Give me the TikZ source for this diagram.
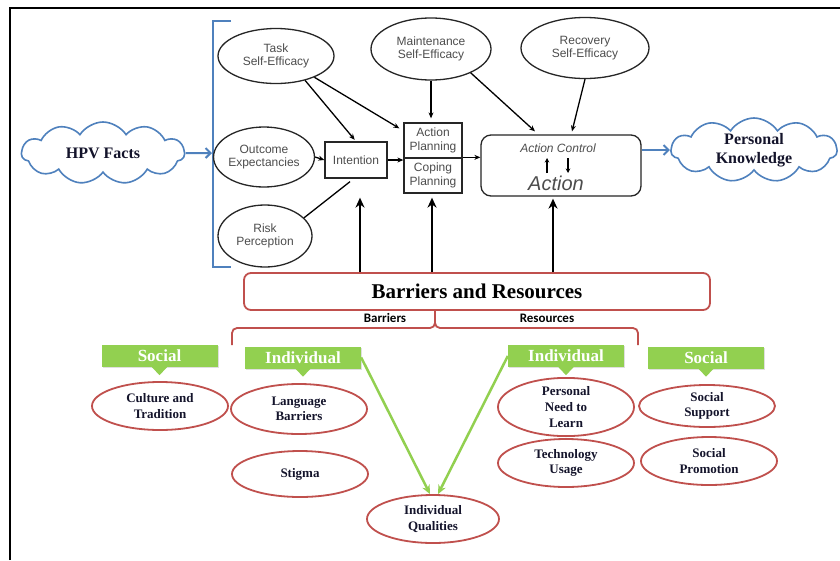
\documentclass[tikz,border=0pt]{standalone}
\usepackage{fontspec}
\setmainfont{Liberation Serif}
\newfontfamily\arialf{Liberation Sans}
\newfontfamily\calibf{Carlito}
\usetikzlibrary{shapes.geometric,shapes.symbols,arrows.meta,calc,shadows}
\definecolor{hapablue}{HTML}{4F81BD}
\definecolor{brred}{HTML}{C0504D}
\definecolor{labgreen}{HTML}{92D050}
\definecolor{txtgray}{HTML}{4D4D4D}
\definecolor{navy}{HTML}{14142B}

\begin{document}
\begin{tikzpicture}[x=1pt,y=-1pt,
  sans/.style={font=\arialf\fontsize{12}{13.5}\selectfont, text=txtgray, align=center},
  hapaell/.style={sans, ellipse, draw=black!85, line width=1.3pt, inner sep=0pt},
  hapabox/.style={sans, rectangle, draw=black!85, line width=1.3pt, inner sep=0pt},
  thinarr/.style={line width=1.3pt, -{Stealth[length=6pt,width=5pt]}},
  bigarr/.style={line width=2.6pt, -{Stealth[length=10pt,width=9pt]}},
  bluearr/.style={draw=hapablue, line width=2pt, -{Straight Barb[length=5pt,width=10pt]}},
  cloudy/.style={cloud, cloud puffs=11, cloud puff arc=115, cloud ignores aspect,
    draw=hapablue, line width=1.6pt, fill=white, inner sep=0pt,
    font=\fontsize{16}{19}\selectfont\bfseries, text=navy, align=center},
  redell/.style={ellipse, draw=brred, line width=1.8pt, fill=white, inner sep=0pt,
    font=\fontsize{13}{15.5}\selectfont\bfseries, text=navy, align=center},
  greenlab/.style={fill=labgreen, text=white, minimum width=116pt, minimum height=22pt,
    inner sep=0pt, font=\fontsize{17}{19}\selectfont\bfseries,
    drop shadow={opacity=0.25, shadow xshift=1pt, shadow yshift=-1pt}},
  greenarr/.style={draw=labgreen, line width=2.5pt, -{Stealth[length=9pt,width=8pt]}},
]
\useasboundingbox (0,0) rectangle (840,560);
\fill[white] (0,0) rectangle (840,560);

% frame
\draw[line width=2.6pt] (10,560) -- (10,8) -- (840,8);

% clouds and bracket
\node[cloudy, minimum width=163pt, minimum height=62pt] (hpv) at (103,153) {HPV Facts};
\node[cloudy, minimum width=166pt, minimum height=64pt] (pk) at (754,150) {Personal\\Knowledge};
\draw[hapablue, line width=2pt] (231,21) -- (213,21) -- (213,267) -- (231,267);
\coordinate (brk) at (212,153);
\draw[bluearr] (hpv.east) -- (brk);

% HAPA ellipses
\node[hapaell, minimum width=116pt, minimum height=55pt] (tse) at (276,56) {Task\\Self-Efficacy};
\node[hapaell, minimum width=92pt, minimum height=60pt] (oe) at (264,157) {Outcome\\Expectancies};
\node[hapaell, minimum width=94pt, minimum height=62pt] (rp) at (265,236) {Risk\\Perception};
\node[hapaell, minimum width=120pt, minimum height=62pt] (mse) at (431,49) {Maintenance\\Self-Efficacy};
\node[hapaell, minimum width=128pt, minimum height=61pt] (rse) at (585,48) {Recovery\\Self-Efficacy};

% HAPA boxes
\node[hapabox, minimum width=62pt, minimum height=36pt] (int) at (356,160) {Intention};
\node[hapabox, minimum width=58pt, minimum height=35pt] (ap) at (433,140.5) {Action\\Planning};
\node[hapabox, minimum width=58pt, minimum height=35pt] (cp) at (433,175.5) {Coping\\Planning};
\node[draw=black!85, line width=1.3pt, rounded corners=10pt, minimum width=160pt, minimum height=61pt] (ac) at (561,165.5) {};
\node[font=\arialf\itshape\fontsize{12}{14}\selectfont, text=txtgray] (actl) at (558,148) {Action Control};
\node[font=\arialf\itshape\fontsize{20}{22}\selectfont, text=txtgray] (actn) at (556,183) {Action};
\coordinate (upa) at (547,173);
\coordinate (upb) at (547,158);
\coordinate (dna) at (568,158);
\coordinate (dnb) at (568,173);
\draw[line width=1.2pt, -{Stealth[length=4.5pt,width=4.5pt]}] (upa) -- (upb);
\draw[line width=1.2pt, -{Stealth[length=4.5pt,width=4.5pt]}] (dna) -- (dnb);

% HAPA connectors
\draw[thinarr, shorten >=2pt] (tse.-40) -- (int.north);
\draw[thinarr] (tse.-29) -- ($(ap.north west)+(-4,6)$);
\draw[thinarr] (oe.east) -- (int.west);
\draw[line width=1.3pt] (rp.25) -- ($(int.south)+(-6,3)$);
\draw[thinarr] (int.east) -- (int.east -| ap.west);
\draw[thinarr, shorten >=4pt] (mse.south) -- (mse.south |- ap.north);
\draw[thinarr] (mse.-31) -- ($(ac.north)+(-26,-3)$);
\draw[thinarr] (rse.south) -- ($(ac.north)+(11,-3)$);
\draw[thinarr] (cp.north east) -- (cp.north east -| ac.west);
\draw[bluearr] (ac.east |- pk.west) -- (pk.west);

% barriers and resources
\node[draw=brred, line width=1.8pt, rounded corners=7pt, minimum width=466pt, minimum height=37pt,
  font=\fontsize{21}{24}\selectfont\bfseries] (br) at (477,291.5) {Barriers and Resources};
\coordinate (intin) at ($(int.south)+(4,19)$);
\coordinate (cpin) at ($(cp.south)+(-1,4)$);
\coordinate (acin) at ($(ac.south)+(-8,2)$);
\draw[bigarr] (intin |- br.north) -- (intin);
\draw[bigarr] (cpin |- br.north) -- (cpin);
\draw[bigarr] (acin |- br.north) -- (acin);

\node[font=\calibf\bfseries\fontsize{13}{15}\selectfont] (barl) at (385,318) {Barriers};
\node[font=\calibf\bfseries\fontsize{13}{15}\selectfont] (resl) at (547,318) {Resources};
\draw[brred, line width=1.8pt, rounded corners=5pt] (232,345) -- (232,328) -- (435,328) -- (435,310);
\draw[brred, line width=1.8pt, rounded corners=5pt] (435,310) -- (435,328) -- (638,328) -- (638,345);

% red ellipses
\node[redell, minimum width=136pt, minimum height=48pt] (cult) at (160,406) {Culture and\\Tradition};
\node[redell, minimum width=136pt, minimum height=50pt] (lang) at (299,409) {Language\\Barriers};
\node[redell, minimum width=136pt, minimum height=46pt] (stig) at (300,474) {Stigma};
\node[redell, minimum width=132pt, minimum height=48pt] (iq) at (433,519) {Individual\\Qualities};
\node[redell, minimum width=136pt, minimum height=48pt,
  font=\fontsize{13}{16}\selectfont\bfseries] (pnl) at (566,407) {Personal\\Need to\\Learn};
\node[redell, minimum width=136pt, minimum height=48pt] (tech) at (566,463) {Technology\\Usage};
\node[redell, minimum width=136pt, minimum height=42pt] (ssup) at (707,406) {Social\\Support};
\node[redell, minimum width=136pt, minimum height=48pt] (sprom) at (709,461) {Social\\Promotion};

% green labels
\node[greenlab] (socL) at (159.5,356) {Social};
\node[greenlab] (indL) at (303,357.5) {Individual};
\node[greenlab] (indR) at (566,356) {Individual};
\node[greenlab] (socR) at (706,357.5) {Social};
\foreach \g in {socL,indL,indR,socR}{
  \fill[labgreen] ($(\g.south)+(-8,-0.5)$) -- ($(\g.south)+(8,-0.5)$) -- ($(\g.south)+(0,8)$) -- cycle;
}
\draw[greenarr] (indL.east) -- ($(iq.north)+(-3,0)$);
\draw[greenarr] (indR.west) -- ($(iq.north)+(5,0)$);
\end{tikzpicture}
\end{document}
